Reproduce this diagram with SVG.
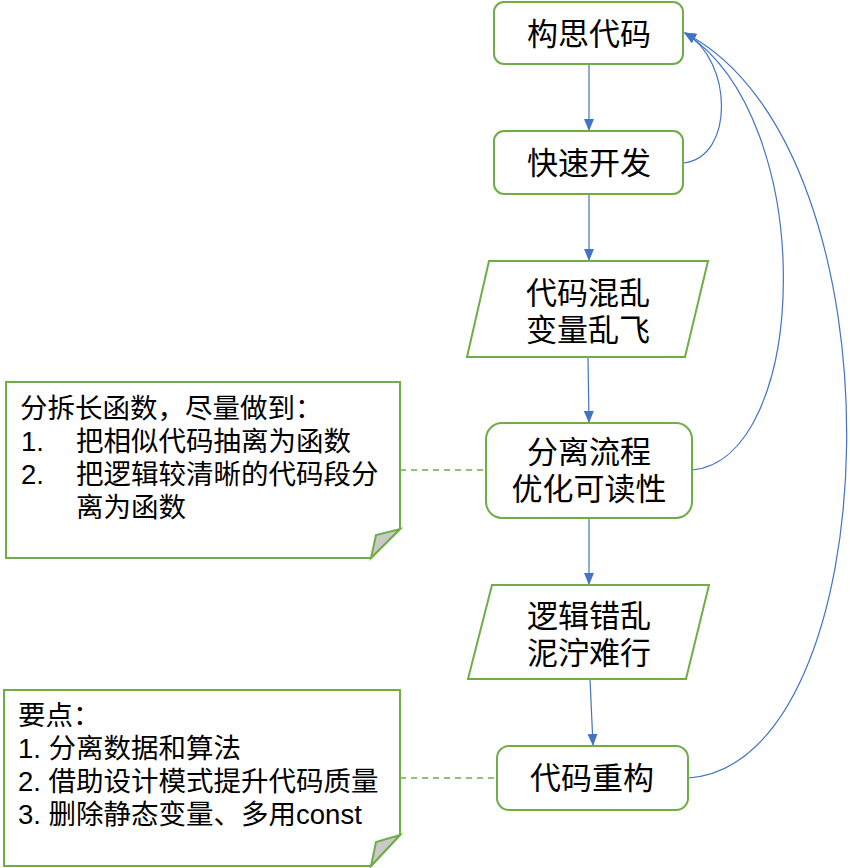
<svg xmlns="http://www.w3.org/2000/svg" width="850" height="868" viewBox="0 0 850 868">
<style>
.box{fill:#fff;stroke:#70AD47;stroke-width:2}
.t{font-family:"Liberation Sans","Noto Sans CJK SC",sans-serif;font-size:31px;fill:#000;text-anchor:middle;dominant-baseline:central}
.n{font-family:"Liberation Sans","Noto Sans CJK SC",sans-serif;font-size:27.5px;fill:#000;dominant-baseline:central}
.e{fill:none;stroke:#4472C4;stroke-width:1.2}
.d{fill:none;stroke:#70AD47;stroke-width:1.5;stroke-dasharray:6,5}
.fold{fill:#C9C9C9;stroke:#70AD47;stroke-width:2}
</style>
<defs>
<marker id="ah" markerWidth="12" markerHeight="10" refX="11" refY="5" orient="auto" markerUnits="userSpaceOnUse">
<path d="M0,0 L12,5 L0,10 Z" fill="#4472C4"/>
</marker>
</defs>
<g id="connectors">
<line class="e" x1="589" y1="65" x2="589" y2="130" marker-end="url(#ah)"/>
<line class="e" x1="589" y1="195" x2="589" y2="260" marker-end="url(#ah)"/>
<line class="e" x1="588" y1="357" x2="589" y2="422" marker-end="url(#ah)"/>
<line class="e" x1="589" y1="518" x2="589" y2="584" marker-end="url(#ah)"/>
<line class="e" x1="590" y1="679" x2="593" y2="745" marker-end="url(#ah)"/>
<path class="e" d="M683,163 C735,158 733,60 685,33" marker-end="url(#ah)"/>
<path class="e" d="M692,470 C810,460 820,120 685,33" marker-end="url(#ah)"/>
<path class="e" d="M688,778 C890,765 910,150 685,33" marker-end="url(#ah)"/>
<line class="d" x1="400" y1="470" x2="486" y2="470"/>
<line class="d" x1="400" y1="778" x2="497" y2="778"/>
</g>
<g id="n1">
<rect class="box" x="494" y="2" width="189" height="62" rx="10"/>
<text class="t" x="589" y="34">构思代码</text>
</g>
<g id="n2">
<rect class="box" x="494" y="131" width="189" height="63" rx="10"/>
<text class="t" x="589" y="163">快速开发</text>
</g>
<g id="n3">
<polygon class="box" points="489,261 708,261 685,357 467,357"/>
<text class="t"><tspan x="588" y="293">代码混乱</tspan><tspan x="588" y="330">变量乱飞</tspan></text>
</g>
<g id="n4">
<rect class="box" x="486" y="423" width="206" height="95" rx="16"/>
<text class="t"><tspan x="589" y="452">分离流程</tspan><tspan x="589" y="489">优化可读性</tspan></text>
</g>
<g id="n5">
<polygon class="box" points="492,585 709,585 686,679 468,679"/>
<text class="t"><tspan x="589" y="616">逻辑错乱</tspan><tspan x="589" y="653">泥泞难行</tspan></text>
</g>
<g id="n6">
<rect class="box" x="497" y="746" width="191" height="64" rx="12"/>
<text class="t" x="592" y="778">代码重构</text>
</g>
<g id="note1">
<path class="box" d="M6,382 L400,382 L400,529 L371,558 L6,558 Z"/>
<polygon class="fold" points="371,558 376,535 400,529"/>
<text class="n"><tspan x="20" y="408">分拆长函数，尽量做到：</tspan><tspan x="21" y="441">1.</tspan><tspan x="76" y="441">把相似代码抽离为函数</tspan><tspan x="21" y="474">2.</tspan><tspan x="76" y="474">把逻辑较清晰的代码段分</tspan><tspan x="76" y="507">离为函数</tspan></text>
</g>
<g id="note2">
<path class="box" d="M4,690 L400,690 L400,835 L371,866 L4,866 Z"/>
<polygon class="fold" points="371,866 376,842 400,835"/>
<text class="n"><tspan x="18" y="715">要点：</tspan><tspan x="18" y="748">1. 分离数据和算法</tspan><tspan x="18" y="781">2. 借助设计模式提升代码质量</tspan><tspan x="18" y="814">3. 删除静态变量、多用const</tspan></text>
</g>
</svg>
